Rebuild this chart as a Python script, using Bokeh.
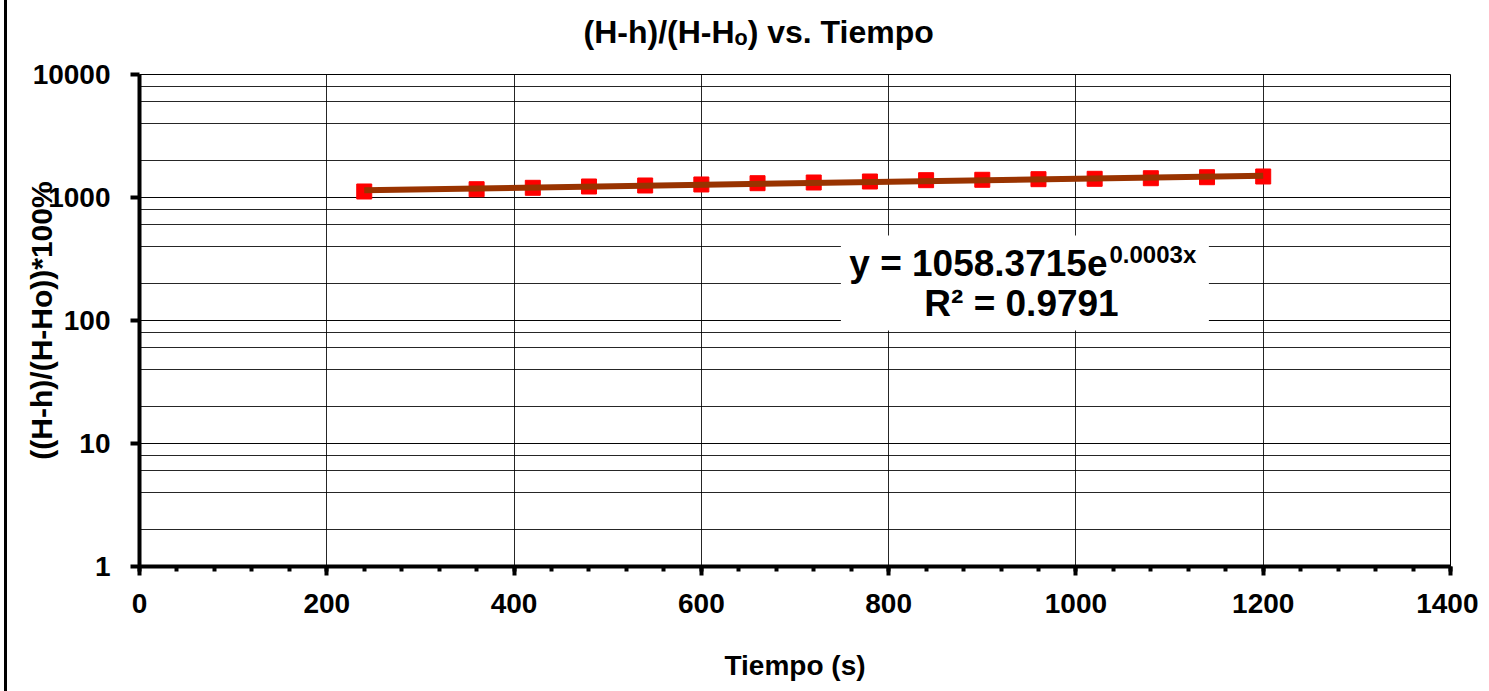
import numpy as np
from bokeh.plotting import figure
from bokeh.models import (Range1d, SingleIntervalTicker, LogTicker, CustomJSTickFormatter,
                          Label, BoxAnnotation)
from bokeh.embed import file_html
from bokeh.resources import INLINE

# ---- data ----
tiempo = [240, 360, 420, 480, 540, 600, 660, 720, 780, 840, 900, 960, 1020, 1080, 1140, 1200]
porcentaje = [1119, 1168, 1199, 1229, 1252, 1276, 1307, 1324, 1349, 1383, 1393, 1409, 1419, 1435, 1462, 1482]

title_text = "(H-h)/(H-H\u2092) vs. Tiempo"
x_label = "Tiempo (s)"
y_label = "((H-h)/(H-Ho))*100%"
eq_main = "y = 1058.3715e"
eq_sup = "0.0003x"
r2_text = "R² = 0.9791"

# exponential trend line fitted to the data
coef = np.polyfit(np.array(tiempo, float), np.log(np.array(porcentaje, float)), 1)
trend_x = np.array([tiempo[0], tiempo[-1]], float)
trend_y = np.exp(coef[1]) * np.exp(coef[0] * trend_x)

FONT = "Liberation Sans"

p = figure(width=1474, height=704, y_axis_type="log",
           x_range=Range1d(0, 1400), y_range=Range1d(1, 10000),
           output_backend="svg", toolbar_location=None,
           min_border_left=132, min_border_right=31, min_border_top=87, min_border_bottom=125)
p.background_fill_color = "white"
p.border_fill_color = "white"
p.outline_line_color = "black"
p.outline_line_width = 1

p.title.text = title_text
p.title.align = "left"
p.title.offset = 444
p.title.standoff = 49
p.title.text_font = FONT
p.title.text_font_style = "bold"
p.title.text_font_size = "32px"
p.title.text_color = "black"

# axes
p.xaxis.ticker = SingleIntervalTicker(interval=200, num_minor_ticks=5)
p.yaxis.ticker = LogTicker()
p.yaxis.formatter = CustomJSTickFormatter(code="return Math.round(tick).toString();")
for ax in (p.xaxis[0], p.yaxis[0]):
    ax.axis_line_width = 4
    ax.axis_line_color = "black"
    ax.major_tick_line_width = 4
    ax.major_tick_line_color = "black"
    ax.major_tick_in = 0
    ax.major_tick_out = 9
    ax.major_label_text_font = FONT
    ax.major_label_text_font_style = "bold"
    ax.major_label_text_font_size = "28px"
    ax.major_label_text_color = "black"
    ax.axis_label_text_font = FONT
    ax.axis_label_text_font_style = "bold"
    ax.axis_label_text_color = "black"
p.xaxis.minor_tick_line_width = 4
p.xaxis.minor_tick_line_color = "black"
p.xaxis.minor_tick_in = 0
p.xaxis.minor_tick_out = 5
p.yaxis.minor_tick_line_color = None
p.xaxis.major_label_standoff = 18
p.yaxis.major_label_standoff = 20

p.xaxis.axis_label = x_label
p.xaxis.axis_label_text_font_size = "28px"
p.xaxis.axis_label_standoff = 34
p.yaxis.axis_label = y_label
p.yaxis.axis_label_text_font_size = "30px"
p.yaxis.axis_label_standoff = -28

# grid
p.xgrid.grid_line_color = "black"
p.xgrid.grid_line_alpha = 0.85
p.ygrid.grid_line_color = "black"
p.ygrid.grid_line_alpha = 0.85
p.ygrid.minor_grid_line_color = "black"
p.ygrid.minor_grid_line_alpha = 0.85

# data
p.scatter(tiempo, porcentaje, marker="square", size=15, fill_color="#FF0000", line_color="#FF0000")
p.line(trend_x, trend_y, line_color="#993300", line_width=6)

# equation box (white background)
p.add_layout(BoxAnnotation(left=749, right=1142, top=491, bottom=83,
                           fill_color="white", fill_alpha=1, line_color=None))

def lab(text, x, y, size, align="left", baseline="alphabetic"):
    p.add_layout(Label(x=x, y=y, x_units="screen", y_units="screen", text=text,
                       text_font=FONT, text_font_style="bold", text_font_size=size,
                       text_color="black", text_align=align, text_baseline=baseline))

# trendline equation (frame-relative screen coords)
lab(eq_main, 968, 303, "37px", align="right")
lab(eq_sup, 970, 312, "24px", align="left")
lab(r2_text, 882, 263, "37px", align="center")

# chart-area border on the left edge; shift canvas up so the frame sits where the reference has it
p.styles = {"border-left": "3px solid black", "margin-left": "4px", "margin-top": "-13px"}

open("out.html", "w").write(file_html(p, INLINE))
